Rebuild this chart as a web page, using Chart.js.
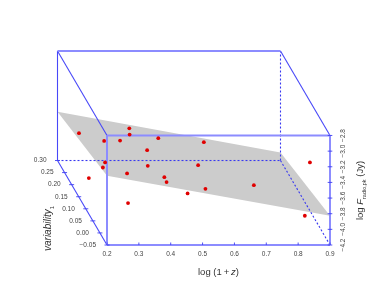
<!DOCTYPE html>
<html><head><meta charset="utf-8">
<style>html,body{margin:0;padding:0;background:#fff}canvas{display:block}</style>
<script src="https://cdn.jsdelivr.net/npm/chart.js@4"></script>
</head><body><canvas id="c" width="374" height="307"></canvas>
<script>
// projected coordinates of the sources: log(1+z) and log F read on the front face
const logZ = [0.112,0.191,0.241,0.270,0.271,0.361,0.326,0.328,0.194,0.187,0.143,0.263,0.380,0.387,0.266,0.453,0.504,0.837,0.486,0.509,0.661,0.821];
const logF = [-2.771,-2.870,-2.865,-2.708,-2.788,-2.835,-2.988,-3.188,-3.145,-3.209,-3.345,-3.285,-3.333,-3.396,-3.664,-3.541,-2.886,-3.145,-3.180,-3.482,-3.435,-3.826];
const xTicks = [0.2,0.3,0.4,0.5,0.6,0.7,0.8,0.9];
const yTicks = [-4.2,-4.0,-3.8,-3.6,-3.4,-3.2,-3.0,-2.8];
const depthTicks = [-0.05,0,0.05,0.10,0.15,0.20,0.25,0.30];
// regression plane corners
const planeX = [0.0446,0.7446,0.9,0.2];
const planeY = [-2.495,-3.018,-3.826,-3.316];
// box range
const xMin=0.2,xMax=0.9,yMin=-4.2,yMax=-2.8;
const depthDX=-0.1554,depthDY=1.08;
const depthMin=-0.05,depthMax=0.30;
const FONT='"Liberation Sans", Arial, sans-serif';

const boxPlugin={id:'box',
 beforeDatasetsDraw(chart){
  const c=chart.ctx,X=chart.scales.x,Y=chart.scales.y;
  const px=v=>X.getPixelForValue(v),py=v=>Y.getPixelForValue(v);
  c.save();
  c.beginPath();
  planeX.forEach((v,i)=>{i?c.lineTo(px(v),py(planeY[i])):c.moveTo(px(v),py(planeY[i]));});
  c.closePath();c.fillStyle='#cccccc';c.fill();
  const seg=(a,b,e,f)=>{c.beginPath();c.moveTo(px(a),py(b));c.lineTo(px(e),py(f));c.stroke();};
  const bx=xMin+depthDX,bX=xMax+depthDX,by=yMin+depthDY,bY=yMax+depthDY;
  // hidden edges
  c.strokeStyle='#3838f0';c.lineWidth=1.1;c.setLineDash([2,2]);
  seg(bx,by,bX,by);seg(bX,by,bX,bY);seg(bX,by,xMax,yMin);
  c.setLineDash([]);
  // back & depth edges
  c.strokeStyle='#4848f8';c.lineWidth=1.1;
  seg(bx,by,bx,bY);seg(bx,bY,xMin,yMax);seg(bX,bY,xMax,yMax);seg(bx,by,xMin,yMin);
  // front face and top edge
  c.strokeStyle='#8c8cff';c.lineWidth=2;
  seg(bx,bY,bX,bY);seg(xMin,yMin,xMax,yMin);seg(xMin,yMax,xMax,yMax);seg(xMin,yMin,xMin,yMax);seg(xMax,yMin,xMax,yMax);
  // ticks
  c.strokeStyle='#4040f0';c.lineWidth=0.9;
  xTicks.forEach(v=>{const p=px(v);c.beginPath();c.moveTo(p,py(yMin));c.lineTo(p,py(yMin)-2.5);c.stroke();});
  yTicks.forEach(v=>{const p=py(v);c.beginPath();c.moveTo(px(xMax)-2.3,p);c.lineTo(px(xMax)+2.3,p);c.stroke();});
  c.font='6.5px '+FONT;c.fillStyle='#444';c.textAlign='right';c.textBaseline='middle';
  depthTicks.forEach(v=>{
    const t=(v-depthMin)/(depthMax-depthMin);
    const a=px(xMin+depthDX*t),b=py(yMin+depthDY*t);
    c.beginPath();c.moveTo(a-2.5,b);c.lineTo(a+2.5,b);c.stroke();
    c.fillText((v<0?'\u2212':'')+Math.abs(v).toFixed(2),a-11,b);
  });
  c.restore();
 },
 afterDraw(chart){
  const c=chart.ctx;
  const runs=(x,y,rot,parts)=>{
    c.save();c.translate(x,y);c.rotate(rot);c.fillStyle='#333';c.textBaseline='alphabetic';c.textAlign='left';
    let w=0;parts.forEach(p=>{c.font=(p.i?'italic ':'')+p.s+'px '+FONT;w+=c.measureText(p.t).width;});
    let cx=-w/2;parts.forEach(p=>{c.font=(p.i?'italic ':'')+p.s+'px '+FONT;c.fillText(p.t,cx,p.d||0);cx+=c.measureText(p.t).width;});
    c.restore();
  };
  runs(218.5,275,0,[{t:'log (1\u2009+\u2009',s:9.5},{t:'z',s:9.5,i:1},{t:')',s:9.5}]);
  runs(363,190.5,-Math.PI/2,[{t:'log ',s:9.5},{t:'F',s:9.5,i:1},{t:'radio,pk',s:5.5,d:2.5},{t:' (Jy)',s:9.5}]);
  runs(51,228.5,-Math.PI/2,[{t:'variability',s:10,i:1},{t:'1',s:6,d:2.5}]);
 }
};

new Chart(document.getElementById('c'),{
 type:'scatter',
 data:{datasets:[{data:logZ.map((v,i)=>({x:v,y:logF[i]})),backgroundColor:'#e00000',borderWidth:0,pointRadius:1.9}]},
 plugins:[boxPlugin],
 options:{
  responsive:false,animation:false,devicePixelRatio:1,
  layout:{padding:{top:51,left:57.5,right:0,bottom:0}},
  plugins:{legend:{display:false},tooltip:{enabled:false},title:{display:false}},
  scales:{
   x:{type:'linear',min:xMin+depthDX,max:xMax,
      afterBuildTicks(s){s.ticks=xTicks.map(v=>({value:v}));},
      afterFit(s){s.height=62;},
      grid:{display:false,drawTicks:false},border:{display:false},
      ticks:{padding:5,autoSkip:false,maxRotation:0,font:{size:6.5,family:FONT},color:'#444',callback:v=>v.toFixed(1)}},
   y:{type:'linear',position:'right',min:yMin,max:yMax+depthDY,
      afterBuildTicks(s){s.ticks=yTicks.map(v=>({value:v}));},
      afterFit(s){s.width=44;},
      grid:{display:false,drawTicks:false},border:{display:false},
      ticks:{padding:6.5,autoSkip:false,minRotation:90,maxRotation:90,crossAlign:'center',font:{size:6.5,family:FONT},color:'#444',callback:v=>'\u2212'+Math.abs(v).toFixed(1)}}
  }
 }
});
</script></body></html>
